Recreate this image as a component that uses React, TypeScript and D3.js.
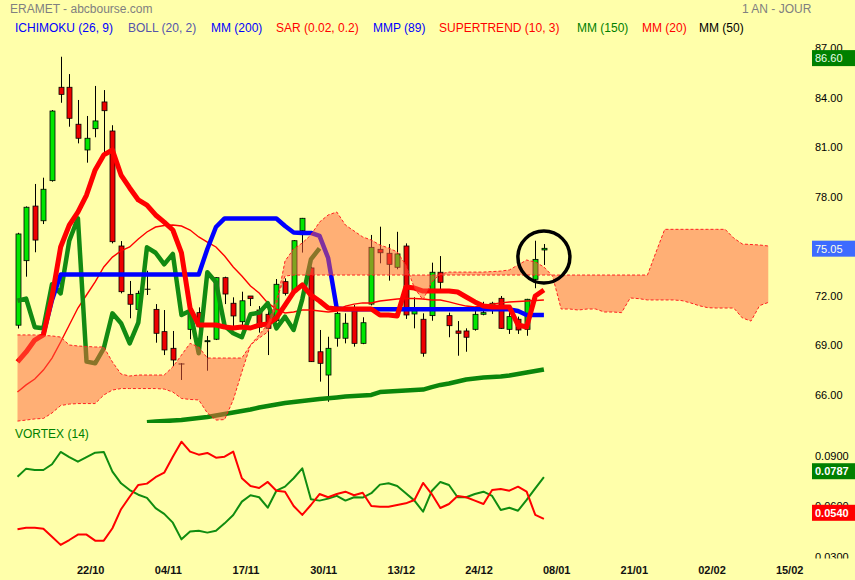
import * as React from 'react';
import * as d3 from 'd3';

// ERAMET daily candles (index 0 .. 61)
const opens = [70.2, 74.11, 77.42, 76.53, 78.96, 84.62, 84.62, 82.38, 80.82, 82.11, 83.73, 81.97, 75.0, 72.07, 71.16, 72.38, 71.16, 69.81, 68.8, 67.85, 69.95, 70.96, 69.2, 69.35, 73.08, 71.53, 70.41, 71.97, 71.12, 70.86, 70.47, 72.84, 72.23, 75.93, 73.67, 68.59, 67.18, 69.41, 69.41, 71.22, 69.1, 71.48, 74.8, 74.56, 73.71, 75.0, 70.88, 70.56, 70.78, 73.41, 70.78, 69.85, 69.85, 69.95, 70.86, 71.32, 71.83, 69.95, 70.56, 69.95, 72.98, 74.76];
const highs = [75.8, 77.4, 78.76, 79.14, 83.24, 86.47, 85.42, 83.85, 82.88, 84.7, 84.45, 82.32, 75.3, 72.88, 72.29, 73.5, 71.48, 71.12, 69.85, 67.9, 71.02, 71.28, 69.55, 73.1, 73.14, 71.89, 72.23, 71.97, 71.36, 71.12, 73.0, 73.04, 75.36, 76.7, 73.75, 69.91, 69.5, 71.02, 70.92, 71.42, 70.68, 75.67, 76.17, 75.12, 75.86, 75.16, 71.89, 70.92, 73.99, 74.39, 70.96, 70.45, 70.01, 71.08, 71.62, 71.62, 71.97, 71.12, 70.72, 71.8, 75.32, 75.12];
const lows = [70.0, 73.14, 74.62, 76.33, 78.9, 83.68, 82.23, 81.22, 80.05, 81.59, 80.62, 75.16, 72.13, 70.62, 71.1, 72.03, 69.14, 68.39, 67.73, 66.88, 69.35, 69.35, 67.44, 69.3, 71.48, 70.11, 70.11, 71.36, 69.75, 68.39, 70.4, 72.0, 72.2, 74.6, 67.97, 66.78, 65.56, 68.9, 69.1, 68.9, 69.05, 71.4, 73.95, 72.9, 73.59, 70.58, 70.01, 68.29, 70.47, 72.29, 69.47, 68.35, 68.59, 69.87, 70.8, 70.88, 69.98, 69.67, 69.67, 69.56, 72.44, 73.85];
const closes = [75.73, 77.35, 75.36, 78.44, 83.18, 84.19, 82.74, 81.53, 81.53, 82.58, 83.2, 75.26, 72.23, 71.47, 72.13, 72.38, 69.71, 68.7, 68.09, 67.85, 70.92, 70.11, 69.26, 73.08, 72.09, 70.76, 71.68, 71.81, 70.08, 70.01, 72.68, 72.13, 75.32, 76.68, 67.99, 67.89, 68.8, 70.92, 70.32, 69.1, 70.35, 74.92, 74.59, 73.89, 74.52, 70.82, 71.08, 68.5, 73.41, 72.8, 70.17, 69.71, 69.47, 70.86, 70.96, 71.53, 70.01, 70.72, 69.91, 71.77, 74.19, 74.86];

// Ichimoku (26, 9)
const tenkan = [67.97, 68.58, 69.3, 69.61, 71.91, 74.94, 76.27, 77.06, 78.09, 79.61, 80.52, 80.82, 79.3, 78.52, 77.79, 77.48, 76.88, 76.45, 75.97, 74.58, 71.24, 70.21, 70.21, 70.21, 70.09, 70.03, 70.09, 70.03, 70.21, 70.27, 70.64, 71.42, 72.21, 72.64, 72.03, 71.67, 71.24, 71.18, 71.18, 71.18, 71.18, 71.18, 70.82, 70.82, 70.76, 72.52, 72.45, 72.27, 72.27, 72.27, 72.27, 72.21, 71.91, 71.61, 71.36, 71.3, 71.3, 71.3, 70.21, 70.09, 71.97, 72.33];
const kijunStart = 3;
const kijun = [69.67, 71.73, 73.27, 73.27, 73.27, 73.27, 73.27, 73.27, 73.27, 73.27, 73.27, 73.27, 73.27, 73.27, 73.27, 73.27, 73.27, 73.27, 73.27, 74.82, 76.15, 76.67, 76.67, 76.67, 76.67, 76.67, 76.67, 76.67, 76.21, 75.82, 75.79, 75.79, 75.61, 74.27, 71.21, 71.16, 71.16, 71.16, 71.16, 71.16, 71.16, 71.16, 71.16, 71.16, 71.16, 71.16, 71.16, 71.16, 71.16, 71.16, 71.16, 71.16, 71.16, 71.16, 71.16, 71.06, 70.82, 70.82, 70.82];
const chikouShift = 26;
// cloud, index 0 .. 87 (projected 26 sessions ahead)
const spanA = [64.39, 64.45, 64.52, 64.55, 64.88, 65.33, 65.42, 65.45, 65.45, 65.45, 65.97, 66.27, 66.36, 66.36, 66.36, 66.36, 66.36, 66.33, 66.15, 65.76, 65.7, 65.67, 64.88, 64.45, 64.48, 65.67, 67.36, 69.0, 69.42, 69.79, 71.42, 74.09, 74.82, 75.18, 75.67, 76.45, 76.88, 77.06, 76.27, 75.91, 75.55, 75.36, 75.06, 74.88, 74.64, 73.85, 72.45, 71.73, 72.82, 73.3, 73.42, 73.42, 73.42, 73.42, 73.42, 73.45, 73.48, 73.55, 73.85, 74.15, 74.03, 73.73, 73.18, 71.18, 71.18, 71.12, 71.18, 71.18, 71.0, 71.0, 70.96, 71.85, 71.81, 71.73, 71.73, 71.73, 71.73, 71.69, 71.55, 71.38, 71.26, 71.24, 71.24, 71.24, 70.64, 70.45, 71.39, 71.58];
const spanB = [69.61, 69.61, 69.61, 69.58, 69.55, 69.48, 69.0, 68.94, 68.91, 68.88, 68.88, 67.97, 67.24, 67.12, 67.18, 67.18, 67.18, 67.18, 67.67, 68.39, 69.1, 68.88, 68.21, 68.21, 68.21, 68.21, 68.21, 69.0, 69.61, 70.27, 71.73, 73.18, 73.24, 73.24, 73.24, 73.24, 73.24, 73.24, 73.24, 73.24, 73.24, 73.24, 73.24, 73.24, 73.24, 73.24, 73.24, 73.24, 73.24, 73.24, 73.24, 73.24, 73.24, 73.24, 73.24, 73.24, 73.24, 73.24, 73.24, 73.24, 73.24, 73.24, 73.24, 73.24, 73.24, 73.24, 73.24, 73.24, 73.24, 73.24, 73.24, 73.24, 73.24, 73.24, 74.64, 76.01, 76.01, 76.01, 76.01, 76.01, 76.01, 76.01, 76.01, 75.48, 75.12, 75.09, 75.06, 75.0];

// moving averages
const mm20 = [66.15, 66.58, 66.94, 67.48, 68.21, 69.18, 70.21, 71.24, 72.03, 72.82, 73.73, 74.33, 74.7, 74.94, 75.42, 75.85, 76.15, 76.24, 76.27, 76.21, 75.97, 75.55, 75.24, 74.94, 74.39, 73.73, 73.18, 72.58, 72.15, 71.55, 71.18, 70.94, 71.0, 71.12, 71.12, 71.06, 71.0, 71.06, 71.36, 71.48, 71.55, 71.55, 71.67, 71.73, 71.79, 71.82, 71.82, 71.79, 71.73, 71.73, 71.61, 71.48, 71.36, 71.3, 71.42, 71.48, 71.55, 71.61, 71.64, 71.67, 71.7, 71.73];
const mm150Start = 15;
const mm150 = [64.32, 64.36, 64.39, 64.42, 64.45, 64.52, 64.58, 64.64, 64.73, 64.82, 64.91, 65.0, 65.09, 65.21, 65.3, 65.39, 65.48, 65.55, 65.61, 65.67, 65.73, 65.77, 65.82, 65.88, 65.91, 65.94, 65.97, 66.15, 66.18, 66.21, 66.24, 66.27, 66.3, 66.45, 66.58, 66.67, 66.79, 66.91, 66.97, 67.03, 67.06, 67.09, 67.15, 67.24, 67.33, 67.42, 67.52];

// VORTEX (14)
const viPlus = [0.079, 0.0838, 0.083, 0.083, 0.0864, 0.0937, 0.0906, 0.0879, 0.0906, 0.0933, 0.0937, 0.082, 0.0751, 0.0711, 0.0683, 0.0664, 0.0603, 0.0569, 0.0517, 0.0418, 0.0464, 0.0469, 0.0458, 0.0469, 0.0513, 0.0563, 0.0642, 0.068, 0.0668, 0.0606, 0.0707, 0.0731, 0.0781, 0.084, 0.0656, 0.0648, 0.066, 0.0676, 0.0648, 0.0668, 0.0666, 0.0692, 0.0743, 0.0751, 0.0735, 0.0692, 0.0648, 0.0582, 0.0705, 0.0759, 0.0741, 0.0668, 0.0668, 0.0687, 0.0701, 0.0676, 0.0592, 0.0606, 0.0588, 0.0652, 0.0721, 0.0787];
const viMinus = [0.0478, 0.0487, 0.0487, 0.0481, 0.0434, 0.0385, 0.0414, 0.0446, 0.0446, 0.041, 0.041, 0.0484, 0.0597, 0.0671, 0.0741, 0.0749, 0.0787, 0.0814, 0.0909, 0.0998, 0.0939, 0.0921, 0.0931, 0.0903, 0.0909, 0.0939, 0.0781, 0.0735, 0.0723, 0.0759, 0.0707, 0.0701, 0.0616, 0.0563, 0.0622, 0.0687, 0.0668, 0.0687, 0.0701, 0.068, 0.0695, 0.0616, 0.0612, 0.0612, 0.0622, 0.0632, 0.0652, 0.0753, 0.0687, 0.0604, 0.0628, 0.0676, 0.0668, 0.0648, 0.0628, 0.0711, 0.0717, 0.0707, 0.0731, 0.0701, 0.0563, 0.054];

// 75.00 sits under the last-price box, so it is left out
const priceTicks = [87, 84, 81, 78, 72, 69, 66];
const vortexTicks = [0.09, 0.06, 0.03];
const dateLabels = ['22/10', '04/11', '17/11', '30/11', '13/12', '24/12', '08/01', '21/01', '02/02', '15/02'];
const dateIndex = [9, 18, 27, 36, 45, 54, 63, 72, 81, 90];

const legend = [
  { text: 'ICHIMOKU (26, 9)', color: '#0000ff' },
  { text: 'BOLL (20, 2)', color: '#5555aa' },
  { text: 'MM (200)', color: '#0000ff' },
  { text: 'SAR (0.02, 0.2)', color: '#ff0000' },
  { text: 'MMP (89)', color: '#0000ff' },
  { text: 'SUPERTREND (10, 3)', color: '#ff0000' },
  { text: 'MM (150)', color: '#008000' },
  { text: 'MM (20)', color: '#ff0000' },
  { text: 'MM (50)', color: '#000000' },
];
const legendX = [15, 128, 211, 276, 373, 439, 577, 642, 699];

const font = "'Liberation Sans', Arial, sans-serif";

export default function App() {
  const x = d3.scaleLinear().domain([0, 61]).range([17.5, 543.9]);
  const y = d3.scaleLinear().domain([66, 87]).range([394.5, 48]);
  const yv = d3.scaleLinear().domain([0.03, 0.09]).range([559.2, 458.2]);

  const path = (vals: number[], start: number, sc: any) =>
    d3.line<number>().x((_, i) => x(i + start)).y(d => sc(d))(vals) || '';

  const chikou = closes.slice(chikouShift);
  const cloudIdx = d3.range(spanA.length);
  const cloud = d3.area<number>()
    .x(i => x(i))
    .y0(i => y(spanA[i]))
    .y1(i => y(spanB[i]))(cloudIdx) || '';

  const boxes = [
    { v: 86.6, label: '86.60', bg: '#008000', fg: '#eaffea', yy: y(86.6) + 3.5 },
    { v: 75.05, label: '75.05', bg: '#3d6bff', fg: '#ffffe8', yy: y(75.05) + 3.5 },
    { v: 0.0787, label: '0.0787', bg: '#008000', fg: '#ffffff', yy: yv(0.0787) - 6 },
    { v: 0.054, label: '0.0540', bg: '#ff0000', fg: '#ffffff', yy: yv(0.054) - 6 },
  ];

  return (
    <svg width={855} height={580} style={{ position: 'absolute', left: 0, top: 0, background: '#ffffaa' }}
      fontFamily={font}>
      <defs>
        <clipPath id="mainClip"><rect x={0} y={38} width={810} height={385} /></clipPath>
        <clipPath id="vortClip"><rect x={0} y={438} width={810} height={121} /></clipPath>
        <clipPath id="vAxisClip"><rect x={805} y={438} width={50} height={120.5} /></clipPath>
      </defs>
      <rect x={0} y={0} width={855} height={580} fill="#ffffaa" />

      <text x={10} y={8.5} fontSize={12} fill="#808080" dominantBaseline="central">ERAMET - abcbourse.com</text>
      <text x={742} y={8.5} fontSize={12} fill="#808080" dominantBaseline="central">1 AN - JOUR</text>
      {legend.map((l, i) => (
        <text key={l.text} x={legendX[i]} y={27.5} fontSize={12} fill={l.color} dominantBaseline="central">{l.text}</text>
      ))}

      <g clipPath="url(#mainClip)">
        {/* candles */}
        {closes.map((c, i) => {
          const o = opens[i];
          const cx = Math.round(x(i)) + 0.5;
          const top = y(Math.max(o, c));
          const bot = y(Math.min(o, c));
          const up = c > o;
          const doji = Math.abs(c - o) < 0.01;
          return (
            <g key={i}>
              <line x1={cx} x2={cx} y1={y(highs[i])} y2={y(lows[i])} stroke="#000" strokeWidth={1} />
              {doji ? (
                <line x1={cx - 3} x2={cx + 3} y1={top} y2={top} stroke="#000" strokeWidth={1} />
              ) : (
                <rect x={cx - 2.5} y={top} width={5} height={Math.max(1, bot - top)}
                  fill={up ? '#00e600' : '#ee0000'} stroke="#000" strokeWidth={0.8} />
              )}
            </g>
          );
        })}

        <path d={path(mm150, mm150Start, y)} fill="none" stroke="#0b860b" strokeWidth={4.5} strokeLinejoin="round" />
        <path d={path(mm20, 0, y)} fill="none" stroke="#ff0000" strokeWidth={1.4} />
        <path d={path(chikou, 0, y)} fill="none" stroke="#128a12" strokeWidth={4.5} strokeLinejoin="round" />
        <path d={path(kijun, kijunStart, y)} fill="none" stroke="#0000ff" strokeWidth={4.5} strokeLinejoin="round" />
        <path d={path(tenkan, 0, y)} fill="none" stroke="#ff0000" strokeWidth={5} strokeLinejoin="round" />

        <path d={cloud} fill="#ff6040" fillOpacity={0.5} stroke="none" />
        <path d={path(spanA, 0, y)} fill="none" stroke="#ff2020" strokeWidth={1} strokeDasharray="3,2" />
        <path d={path(spanB, 0, y)} fill="none" stroke="#ff2020" strokeWidth={1} strokeDasharray="3,2" />

        <circle cx={x(61)} cy={257} r={26} fill="none" stroke="#000" strokeWidth={3.5} />
      </g>

      {priceTicks.map(t => (
        <text key={t} x={815} y={y(t)} fontSize={11} fill="#000" dominantBaseline="central">{t.toFixed(2)}</text>
      ))}

      <text x={15} y={434} fontSize={12} fill="#008000" dominantBaseline="central">VORTEX (14)</text>
      <g clipPath="url(#vortClip)">
        <path d={path(viPlus, 0, yv)} fill="none" stroke="#108c10" strokeWidth={2} strokeLinejoin="round" />
        <path d={path(viMinus, 0, yv)} fill="none" stroke="#ff0000" strokeWidth={2} strokeLinejoin="round" />
      </g>
      <g clipPath="url(#vAxisClip)">
        {vortexTicks.map(t => (
          <text key={t} x={815} y={yv(t) - 2.5} fontSize={11} fill="#000" dominantBaseline="central">{t.toFixed(4)}</text>
        ))}
      </g>

      {boxes.map(b => (
        <g key={b.label}>
          <rect x={812} y={b.yy - 8} width={43} height={16} fill={b.bg} />
          <text x={815} y={b.yy} fontSize={11} fill={b.fg} dominantBaseline="central"
            fontWeight={b.v < 1 ? 'bold' : 'normal'}>{b.label}</text>
        </g>
      ))}

      {dateLabels.map((d, i) => (
        <text key={d} x={x(dateIndex[i]) - 4.5} y={570} fontSize={11} fontWeight="bold" fill="#111"
          textAnchor="middle" dominantBaseline="central">{d}</text>
      ))}
    </svg>
  );
}
